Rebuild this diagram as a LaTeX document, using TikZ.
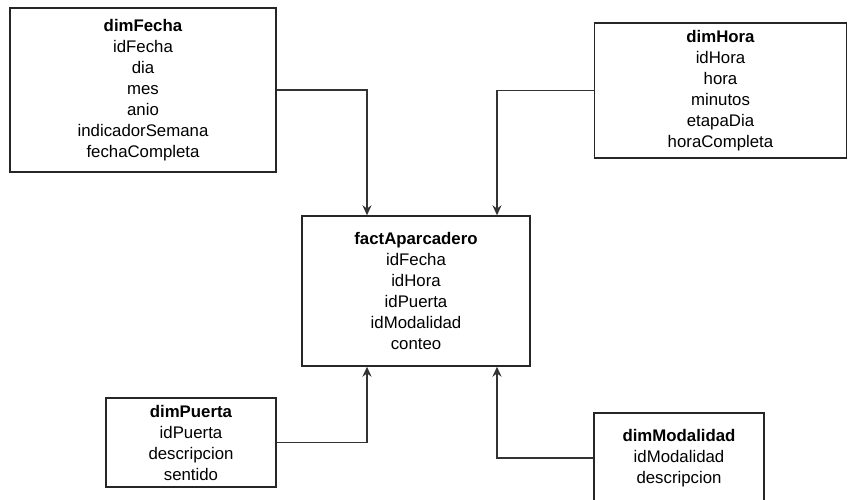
\documentclass[tikz,border=0pt]{standalone}
\usepackage{fontspec}
\setmainfont{Liberation Sans}
\usetikzlibrary{arrows.meta}
\begin{document}
\begin{tikzpicture}[x=1pt,y=-1pt,
  table/.style={draw=black!85, line width=1.4pt, fill=white, rectangle,
    align=center, inner sep=0pt,
    font=\fontsize{16.8}{21}\selectfont},
  link/.style={draw=black!80, line width=1.4pt,
    -{Stealth[length=10pt,width=9pt]}}]
\useasboundingbox (0,0) rectangle (848,500);
\clip (0,0) rectangle (848,500);

\node[table, minimum width=266pt, minimum height=164pt] (fecha) at (143,90)
  {\textbf{dimFecha}\\idFecha\\dia\\mes\\anio\\indicadorSemana\\fechaCompleta};
\node[table, minimum width=252pt, minimum height=135pt] (hora) at (720.5,90.5)
  {\textbf{dimHora}\\idHora\\hora\\minutos\\etapaDia\\horaCompleta};
\node[table, minimum width=228pt, minimum height=150pt] (fact) at (416,291)
  {\textbf{factAparcadero}\\idFecha\\idHora\\idPuerta\\idModalidad\\conteo};
\node[table, minimum width=170pt, minimum height=89pt] (puerta) at (191,442.5)
  {\textbf{dimPuerta}\\idPuerta\\descripcion\\sentido};
\node[table, minimum width=170pt, minimum height=90pt] (modal) at (679,458)
  {\textbf{dimModalidad}\\idModalidad\\descripcion};

\draw[link] (fecha.east) -| ([xshift=-49pt]fact.north);
\draw[link] (hora.west) -| ([xshift=81pt]fact.north);
\draw[link] (puerta.east) -| ([xshift=-49pt]fact.south);
\draw[link] (modal.west) -| ([xshift=81pt]fact.south);
\end{tikzpicture}
\end{document}
